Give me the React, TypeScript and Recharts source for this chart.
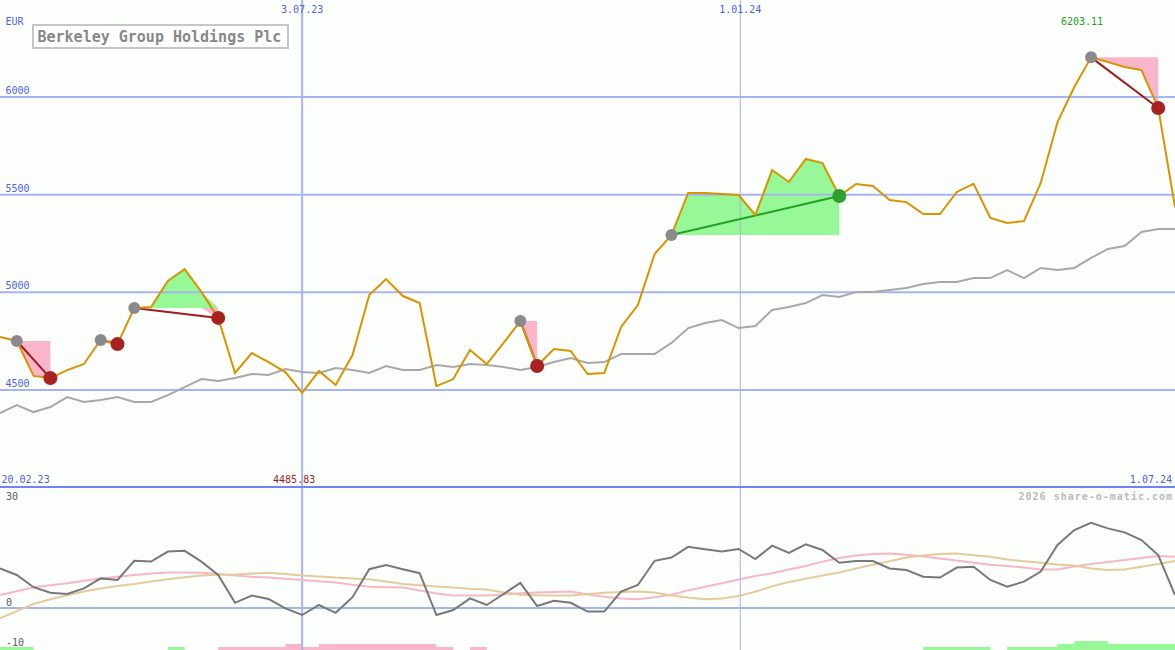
import React from "react"
import { Area, ComposedChart, Line, ReferenceLine, XAxis, YAxis } from "recharts"

// weekly closes, EUR
const price = [
  4771, 4751, 4572, 4561, 4602, 4633, 4756, 4735, 4920, 4925,
  5058, 5119, 5002, 4869, 4587, 4689, 4643, 4592, 4485.83, 4597,
  4526, 4679, 4986, 5068, 4981, 4945, 4520, 4556, 4705, 4633,
  4741, 4853, 4623, 4710, 4700, 4582, 4587, 4823, 4935, 5196,
  5294, 5509, 5509, 5503, 5498, 5396, 5626, 5565, 5683, 5662,
  5493, 5555, 5544, 5473, 5462, 5401, 5401, 5514, 5555, 5381,
  5355, 5365, 5560, 5872, 6051, 6203.11, 6179, 6154, 6138, 5944,
  5437,
]

// long moving average (grey)
const trend = [
  4382, 4423, 4387, 4413, 4464, 4439, 4449, 4464, 4439, 4439,
  4474, 4515, 4556, 4546, 4561, 4582, 4577, 4607, 4592, 4587,
  4613, 4602, 4587, 4623, 4602, 4602, 4628, 4618, 4633, 4628,
  4618, 4602, 4618, 4643, 4664, 4638, 4643, 4684, 4684, 4684,
  4741, 4817, 4843, 4858, 4817, 4828, 4910, 4925, 4945, 4986,
  4976, 5002, 5002, 5012, 5022, 5043, 5053, 5053, 5073, 5073,
  5114, 5073, 5125, 5114, 5125, 5176, 5222, 5237, 5309, 5324,
  5324,
]

// lower panel
const momentum = [
  9.9, 8.25, 5.2, 3.8, 3.5, 4.9, 7.4, 7.0, 11.8, 11.6,
  14.1, 14.3, 11.6, 8.25, 1.3, 3.1, 2.25, -0.1, -1.75, 0.75,
  -1.2, 2.7, 9.7, 10.75, 9.7, 8.7, -1.75, -0.5, 2.4, 0.75,
  3.5, 6.3, 0.5, 1.8, 1.3, -0.9, -0.9, 4.1, 5.75, 11.8,
  12.6, 15.3, 14.7, 14.1, 14.75, 12.25, 15.6, 13.8, 15.9, 14.5,
  11.3, 11.75, 11.75, 9.9, 9.5, 7.8, 7.6, 10.1, 10.3, 7.0,
  5.3, 6.6, 9.1, 15.75, 19.5, 21.3, 19.9, 18.9, 17.0, 13.25,
  3.25,
]

const signalFast = [
  3.25, 4.2, 5.2, 5.7, 6.2, 6.8, 7.4, 7.8, 8.25, 8.6,
  8.9, 8.9, 8.8, 8.5, 8.1, 7.8, 7.6, 7.3, 7.0, 6.7,
  6.4, 5.8, 5.3, 5.2, 5.1, 4.4, 3.6, 3.1, 3.1, 3.1,
  3.4, 3.7, 3.9, 4.0, 4.1, 3.4, 2.8, 2.4, 2.2, 2.7,
  3.3, 4.4, 5.3, 6.2, 7.1, 8.0, 8.7, 9.6, 10.5, 11.6,
  12.5, 13.1, 13.5, 13.6, 13.3, 12.9, 12.4, 11.9, 11.3, 10.8,
  10.5, 10.1, 9.6, 9.6, 10.4, 11.0, 11.5, 12.0, 12.5, 13.0,
  12.8,
]

const signalSlow = [
  -2.6, -0.8, 1.0, 2.2, 3.2, 4.1, 4.9, 5.5, 6.0, 6.6,
  7.2, 7.7, 8.1, 8.3, 8.4, 8.6, 8.8, 8.5, 8.1, 7.9,
  7.6, 7.4, 7.2, 6.6, 6.0, 5.7, 5.4, 5.1, 4.8, 4.6,
  3.9, 3.3, 3.2, 3.1, 3.1, 3.5, 3.8, 4.0, 4.1, 3.9,
  3.1, 2.6, 2.2, 2.4, 3.0, 4.1, 5.4, 6.5, 7.3, 8.1,
  8.9, 9.85, 10.8, 11.7, 12.6, 13.1, 13.5, 13.6, 13.2, 12.8,
  12.1, 11.7, 11.3, 10.9, 10.6, 9.9, 9.5, 9.6, 10.3, 11.0,
  11.75,
]

// signal histogram, + green / - pink
const histogram = [
  0.75, 0.75, 0, 0, 0, 0, 0, 0, 0, 0,
  0.75, 0, 0, -0.75, -0.75, -0.75, -0.75, -1.5, -0.75, -1.5,
  -1.5, -1.5, -1.5, -1.5, -1.5, -1.5, -0.75, 0, -0.75, 0,
  0, 0, 0, 0, 0, 0, 0, 0, 0, 0,
  0, 0, 0, 0, 0, 0, 0, 0, 0, 0,
  0, 0, 0, 0, 0, 0.75, 0.75, 0.75, 0.75, 0,
  0.75, 0.75, 0.75, 1.5, 2.25, 2.25, 1.5, 1.5, 1.5, 1.5,
  1.5,
]

// entry / exit week indices
const trades = [
  { entry: 1, exit: 3 },
  { entry: 6, exit: 7 },
  { entry: 8, exit: 13 },
  { entry: 31, exit: 32 },
  { entry: 40, exit: 50 },
  { entry: 65, exit: 69 },
]

const priceLevels = [6000, 5500, 5000, 4500]
const dateMarks = [
  { week: 18, label: "3.07.23" },
  { week: 44.1, label: "1.01.24" },
]
const firstDate = "20.02.23"
const lastDate = "1.07.24"

const MONO = "'DejaVu Sans Mono', monospace"
const BLUE = "#4e5ef0"
const GRID = "#a6b4f2"
const GAIN_FILL = "#96f896"
const LOSS_FILL = "#f9b6ca"
const W = 1175

const rows = price.map((p, i) => {
  const row: Record<string, any> = {
    i,
    price: p,
    trend: trend[i],
    momentum: momentum[i],
    fast: signalFast[i],
    slow: signalSlow[i],
    histUp: histogram[i] > 0 ? histogram[i] : 0,
    histDown: histogram[i] < 0 ? -histogram[i] : 0,
  }
  trades.forEach((t, k) => {
    const base = price[t.entry]
    const inside = i >= t.entry && i <= t.exit
    row[`up${k}`] = inside ? [base, Math.max(p, base)] : null
    row[`down${k}`] = inside ? [Math.min(p, base), base] : null
    row[`link${k}`] = i === t.entry || i === t.exit ? p : null
  })
  row.entryDot = trades.some((t) => t.entry === i) ? p : null
  const ex = trades.find((t) => t.exit === i)
  row.exitLoss = ex && p < price[ex.entry] ? p : null
  row.exitGain = ex && p >= price[ex.entry] ? p : null
  return row
})

const maxIdx = price.indexOf(Math.max(...price))
const minIdx = price.indexOf(Math.min(...price))
const xOf = (i: number) => (i * W) / (price.length - 1)

function LevelTag({ viewBox, text }: any) {
  return (
    <text x={viewBox.x + 5.5} y={viewBox.y - 3} fontSize={10} fontFamily={MONO} fill={BLUE}>
      {text}
    </text>
  )
}

function DateTag({ viewBox, text }: any) {
  return (
    <text x={viewBox.x} y={viewBox.y + 12.5} fontSize={10} fontFamily={MONO} fill={BLUE} textAnchor="middle">
      {text}
    </text>
  )
}

export default function App() {
  return (
    <div style={{ position: "fixed", left: 0, top: 0, width: W, height: 650, background: "#fcfefc", overflow: "hidden" }}>
      <div style={{ position: "absolute", left: 0, top: 0 }}>
        <ComposedChart width={W} height={487} data={rows} margin={{ top: 0, right: 0, bottom: 0, left: 0 }}>
          <XAxis type="number" dataKey="i" domain={[0, price.length - 1]} hide />
          <YAxis type="number" domain={[4003.4, 6496.6]} allowDataOverflow hide />
          {priceLevels.map((v) => (
            <ReferenceLine key={v} y={v} stroke={GRID} strokeWidth={2} label={<LevelTag text={String(v)} />} />
          ))}
          {dateMarks.map((d, k) => (
            <ReferenceLine
              key={d.label}
              x={d.week}
              stroke={k === 0 ? GRID : "#aab0dc"}
              strokeWidth={k === 0 ? 2 : 1}
              label={<DateTag text={d.label} />}
            />
          ))}
          {trades.map((t, k) => (
            <Area key={`d${k}`} dataKey={`down${k}`} type="linear" stroke="none" fill={LOSS_FILL} fillOpacity={1} activeDot={false} isAnimationActive={false} />
          ))}
          {trades.map((t, k) => (
            <Area key={`u${k}`} dataKey={`up${k}`} type="linear" stroke="none" fill={GAIN_FILL} fillOpacity={1} activeDot={false} isAnimationActive={false} />
          ))}
          <Line dataKey="trend" type="linear" stroke="#a8a8a8" strokeWidth={2} dot={false} activeDot={false} isAnimationActive={false} />
          <Line dataKey="entryDot" stroke="none" dot={{ r: 6, fill: "#8a8a8a", stroke: "none" }} activeDot={false} isAnimationActive={false} />
          <Line dataKey="exitLoss" stroke="none" dot={{ r: 7, fill: "#a82222", stroke: "none" }} activeDot={false} isAnimationActive={false} />
          <Line dataKey="exitGain" stroke="none" dot={{ r: 7, fill: "#2ca02c", stroke: "none" }} activeDot={false} isAnimationActive={false} />
          {trades.map((t, k) => (
            <Line
              key={`l${k}`}
              dataKey={`link${k}`}
              connectNulls
              stroke={price[t.exit] >= price[t.entry] ? "#22a022" : "#a01c1c"}
              strokeWidth={2}
              dot={false}
              activeDot={false}
              isAnimationActive={false}
            />
          ))}
          <Line dataKey="price" type="linear" stroke="#d89400" strokeWidth={2} dot={false} activeDot={false} isAnimationActive={false} />
        </ComposedChart>
      </div>
      <div style={{ position: "absolute", left: 0, top: 487 }}>
        <ComposedChart width={W} height={163} data={rows} margin={{ top: 0, right: 0, bottom: 0, left: 0 }}>
          <XAxis type="number" dataKey="i" domain={[0, price.length - 1]} hide />
          <YAxis type="number" domain={[-10.5, 30.25]} allowDataOverflow hide />
          <YAxis yAxisId="hist" type="number" domain={[0, 40.75]} allowDataOverflow hide />
          <ReferenceLine y={0} stroke={GRID} strokeWidth={2} />
          {dateMarks.map((d, k) => (
            <ReferenceLine key={d.label} x={d.week} stroke={k === 0 ? GRID : "#aab0dc"} strokeWidth={k === 0 ? 2 : 1} />
          ))}
          <Area yAxisId="hist" dataKey="histUp" type="stepAfter" stroke="none" fill={GAIN_FILL} fillOpacity={1} activeDot={false} isAnimationActive={false} />
          <Area yAxisId="hist" dataKey="histDown" type="stepAfter" stroke="none" fill={LOSS_FILL} fillOpacity={1} activeDot={false} isAnimationActive={false} />
          <Line dataKey="fast" type="linear" stroke="#f8b6c9" strokeWidth={2} dot={false} activeDot={false} isAnimationActive={false} />
          <Line dataKey="slow" type="linear" stroke="#e3cb9b" strokeWidth={2} dot={false} activeDot={false} isAnimationActive={false} />
          <Line dataKey="momentum" type="linear" stroke="#787878" strokeWidth={2} dot={false} activeDot={false} isAnimationActive={false} />
        </ComposedChart>
      </div>
      <div style={{ position: "absolute", left: 0, top: 486, width: W, height: 2, background: "#7282ee" }} />
      <svg width={W} height={650} style={{ position: "absolute", left: 0, top: 0, pointerEvents: "none" }} fontFamily={MONO} fontSize={10}>
        <text x={5.5} y={25} fill={BLUE}>EUR</text>
        <rect x={33} y={25} width={255} height={23} fill="#ffffff" stroke="#c6c6c6" strokeWidth={2} />
        <text x={37.5} y={41.5} fontSize={15} fontWeight="bold" fill="#888888">Berkeley Group Holdings Plc</text>
        <text x={xOf(maxIdx) - 9} y={25} fill="#22a022" textAnchor="middle">{price[maxIdx].toFixed(2)}</text>
        <text x={xOf(minIdx) - 8} y={483} fill="#a01c1c" textAnchor="middle">{price[minIdx].toFixed(2)}</text>
        <text x={1.5} y={483} fill={BLUE}>{firstDate}</text>
        <text x={1172} y={483} fill={BLUE} textAnchor="end">{lastDate}</text>
        <text x={1173} y={500} fill="#bbbbbb" fontWeight="bold" letterSpacing={1} textAnchor="end">2026 share-o-matic.com</text>
        <text x={6} y={499.5} fill="#5a5a5a">30</text>
        <text x={6} y={605.5} fill="#5a5a5a">0</text>
        <text x={6} y={645.5} fill="#5a5a5a">-10</text>
      </svg>
    </div>
  )
}
